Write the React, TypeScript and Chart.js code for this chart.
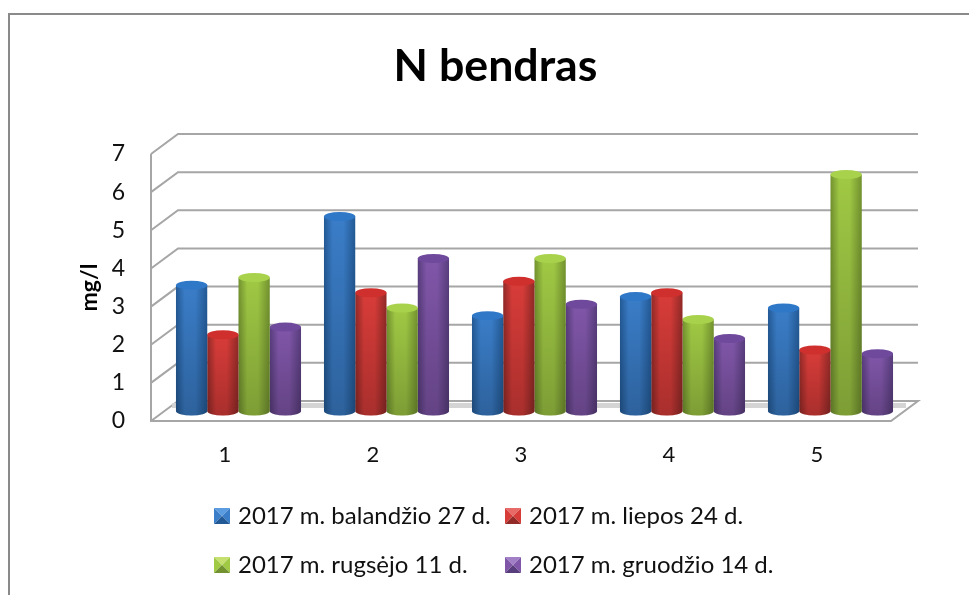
import React, { useEffect, useRef } from "react";
import { Chart, registerables } from "chart.js";

Chart.register(...registerables);

const categories = ["1", "2", "3", "4", "5"];
const seriesLabels = [
  "2017 m. balandžio 27 d.",
  "2017 m. liepos 24 d.",
  "2017 m. rugsėjo 11 d.",
  "2017 m. gruodžio 14 d.",
];
const april = [3.3, 5.1, 2.5, 3.0, 2.7];
const july = [2.0, 3.1, 3.4, 3.1, 1.6];
const september = [3.5, 2.7, 4.0, 2.4, 6.2];
const december = [2.2, 4.0, 2.8, 1.9, 1.5];
const seriesValues = [april, july, september, december];
const yTicks = [0, 1, 2, 3, 4, 5, 6, 7];

const palette = [
  { mid: "#3a7dc8", edge: "#235a96", top: "#2f78c8", light: "#5b9be0" },
  { mid: "#d83c39", edge: "#922a27", top: "#cf302d", light: "#e86a66" },
  { mid: "#a0c944", edge: "#72922f", top: "#a9d24c", light: "#c6e070" },
  { mid: "#8056a9", edge: "#583d7d", top: "#6f4a9c", light: "#a07fc6" },
];

const FONT = "Lato, 'Noto Sans', sans-serif";
const DX = 27;
const DY = -20;
const GRID = "#a6a6a6";

const cylinderPlugin = {
  id: "cylinders",
  beforeDatasetDraw(chart: any, args: any) {
    const { ctx } = chart;
    const p = palette[args.index];
    args.meta.data.forEach((bar: any) => {
      const w = bar.width;
      const l = bar.x - w / 2 + DX / 2;
      const r = l + w;
      const t = bar.y + DY / 2;
      const b = bar.base + DY / 2;
      const cx = (l + r) / 2;
      const ry = 4.5;
      const g = ctx.createLinearGradient(l, 0, r, 0);
      g.addColorStop(0, p.edge);
      g.addColorStop(0.28, p.mid);
      g.addColorStop(0.62, p.mid);
      g.addColorStop(1, p.edge);
      ctx.save();
      ctx.beginPath();
      ctx.moveTo(l, t);
      ctx.lineTo(l, b);
      ctx.ellipse(cx, b, w / 2, ry, 0, Math.PI, 0, true);
      ctx.lineTo(r, t);
      ctx.closePath();
      ctx.fillStyle = g;
      ctx.fill();
      const v = ctx.createLinearGradient(0, t, 0, b + ry);
      v.addColorStop(0, "rgba(0,0,0,0)");
      v.addColorStop(1, "rgba(0,0,0,0.22)");
      ctx.fillStyle = v;
      ctx.fill();
      ctx.beginPath();
      ctx.ellipse(cx, t, w / 2, ry, 0, 0, Math.PI * 2);
      ctx.fillStyle = p.top;
      ctx.fill();
      ctx.restore();
    });
    return false;
  },
};

const wallPlugin = {
  id: "wall",
  beforeDatasetsDraw(chart: any) {
    const { ctx, chartArea } = chart;
    const y = chart.scales.y;
    const { left, right } = chartArea;
    ctx.save();
    ctx.strokeStyle = GRID;
    ctx.lineWidth = 2;
    yTicks.forEach((t) => {
      const py = y.getPixelForValue(t);
      ctx.beginPath();
      ctx.moveTo(left, py);
      ctx.lineTo(left + DX, py + DY);
      if (t > 0) ctx.lineTo(right + DX, py + DY);
      ctx.stroke();
    });
    const p0 = y.getPixelForValue(0);
    ctx.beginPath();
    ctx.moveTo(left + DX, p0 + DY);
    ctx.lineTo(right + DX, p0 + DY);
    ctx.lineTo(right, p0);
    ctx.lineTo(left, p0);
    ctx.lineTo(left, y.getPixelForValue(7));
    ctx.stroke();
    ctx.fillStyle = "#d4d4d4";
    ctx.fillRect(left + DX - 6, p0 + DY + 2, right - left - 6, 5);
    ctx.restore();
  },
};

const framePlugin = {
  id: "frame",
  beforeDraw(chart: any) {
    const { ctx } = chart;
    ctx.save();
    ctx.fillStyle = "#ffffff";
    ctx.fillRect(0, 0, chart.width, chart.height);
    ctx.strokeStyle = "#8a8a8a";
    ctx.lineWidth = 2;
    ctx.beginPath();
    ctx.moveTo(9, 595);
    ctx.lineTo(9, 14);
    ctx.lineTo(969, 14);
    ctx.stroke();
    ctx.restore();
  },
};

const legendSpots = [
  { x: 214, y: 516 },
  { x: 505, y: 516 },
  { x: 214, y: 565 },
  { x: 505, y: 565 },
];

const facet = (ctx: any, color: string, pts: number[][]) => {
  ctx.fillStyle = color;
  ctx.beginPath();
  ctx.moveTo(pts[0][0], pts[0][1]);
  ctx.lineTo(pts[1][0], pts[1][1]);
  ctx.lineTo(pts[2][0], pts[2][1]);
  ctx.closePath();
  ctx.fill();
};

const legendPlugin = {
  id: "gridLegend",
  afterDraw(chart: any) {
    const { ctx } = chart;
    ctx.save();
    ctx.font = `24px ${FONT}`;
    ctx.textBaseline = "middle";
    ctx.textAlign = "left";
    chart.data.datasets.forEach((ds: any, i: number) => {
      const { x, y } = legendSpots[i];
      const p = palette[i];
      const s = 16;
      const top = y - s / 2;
      const c = [x + s / 2, top + s / 2];
      facet(ctx, p.light, [[x, top], [x + s, top], c]);
      facet(ctx, p.mid, [[x, top], [x, top + s], c]);
      facet(ctx, p.mid, [[x + s, top], [x + s, top + s], c]);
      facet(ctx, p.edge, [[x, top + s], [x + s, top + s], c]);
      ctx.fillStyle = "#111111";
      ctx.fillText(ds.label, x + 24, y);
    });
    ctx.restore();
  },
};

export default function App() {
  const ref = useRef<HTMLCanvasElement | null>(null);
  useEffect(() => {
    document.body.style.margin = "0";
    const chart = new Chart(ref.current as HTMLCanvasElement, {
      type: "bar",
      data: {
        labels: categories,
        datasets: seriesValues.map((data, i) => ({
          label: seriesLabels[i],
          data,
          backgroundColor: palette[i].mid,
          barPercentage: 1,
          categoryPercentage: 0.845,
        })),
      },
      options: {
        animation: false,
        responsive: false,
        layout: { padding: { left: 22, right: 0, top: 0, bottom: 0 } },
        plugins: {
          legend: { display: false },
          tooltip: { enabled: false },
          title: {
            display: true,
            text: "N bendras",
            color: "#000000",
            font: { family: FONT, size: 44.7, weight: "bold", lineHeight: 1.2 },
            padding: { top: 40, bottom: 60.4 },
          },
        },
        scales: {
          x: {
            grid: { display: false, drawTicks: false },
            border: { display: false },
            afterFit: (s: any) => {
              s.height = 174;
            },
            ticks: { color: "#111111", padding: 21, font: { family: FONT, size: 22 } },
          },
          y: {
            min: 0,
            max: 7,
            grid: { display: false, drawTicks: false },
            border: { display: false },
            afterFit: (s: any) => {
              s.width = 129;
            },
            ticks: {
              color: "#111111",
              padding: 26,
              stepSize: 1,
              font: { family: FONT, size: 23 },
            },
            title: {
              display: true,
              text: "mg/l",
              color: "#000000",
              font: { family: FONT, size: 23, weight: "bold", lineHeight: 1.2 },
              padding: { top: 54, bottom: 0 },
            },
          },
          spacer: {
            position: "right",
            grid: { display: false, drawTicks: false },
            border: { display: false },
            ticks: { display: false },
            afterFit: (s: any) => {
              s.width = 78;
            },
          },
        },
      } as any,
      plugins: [framePlugin, wallPlugin, cylinderPlugin, legendPlugin],
    });
    return () => chart.destroy();
  }, []);
  return <canvas ref={ref} width={969} height={595} style={{ display: "block" }} />;
}
